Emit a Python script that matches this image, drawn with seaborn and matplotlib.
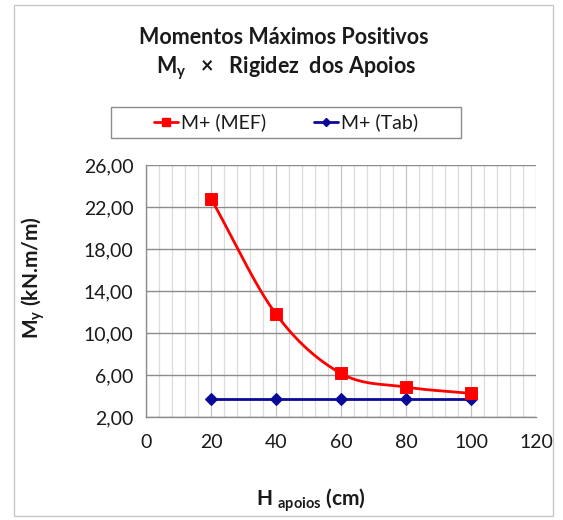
import numpy as np
import pandas as pd
import seaborn as sns
import matplotlib
matplotlib.use("Agg")
import matplotlib.pyplot as plt
from matplotlib.ticker import MultipleLocator, FixedLocator, FuncFormatter
from matplotlib.lines import Line2D
from matplotlib.patches import Rectangle

# Data
h_apoios = [20, 40, 60, 80, 100]
m_mef = [22.80, 11.80, 6.15, 4.85, 4.25]
m_tab = [3.70, 3.70, 3.70, 3.70, 3.70]
series_names = ["M+ (MEF)", "M+ (Tab)"]
y_ticks = [2, 6, 10, 14, 18, 22, 26]

sns.set_theme(style="white")
FONT = "Lato"
plt.rcParams["font.family"] = [FONT, "DejaVu Sans"]
plt.rcParams["mathtext.fontset"] = "custom"
plt.rcParams["mathtext.rm"] = FONT
plt.rcParams["mathtext.bf"] = FONT + ":bold"
plt.rcParams["mathtext.it"] = FONT + ":italic"

RED = "#ff0000"
BLUE = "#0a0a96"
TXT = "#1a1a1a"
W, H = 563, 520
fig = plt.figure(figsize=(W / 100, H / 100), dpi=100)
fig.patch.set_facecolor("white")

# outer chart frame
fig.patches.append(Rectangle((14 / W, 1 - 516 / H), (553 - 14) / W, (516 - 5) / H,
                             transform=fig.transFigure, fill=False,
                             edgecolor="#c8c8c8", linewidth=1.0))
# legend frame
fig.patches.append(Rectangle((111 / W, 1 - 138 / H), (461 - 111) / W, (138 - 107) / H,
                             transform=fig.transFigure, fill=False,
                             edgecolor="#8c8c8c", linewidth=1.0))

ax = fig.add_axes([146 / W, 1 - 417 / H, (536 - 146) / W, (417 - 165) / H])

df = pd.DataFrame({"H": h_apoios * 2,
                   "M": m_mef + m_tab,
                   "serie": [series_names[0]] * 5 + [series_names[1]] * 5})

# grid
ax.xaxis.set_major_locator(MultipleLocator(20))
ax.xaxis.set_minor_locator(MultipleLocator(4))
ax.yaxis.set_major_locator(FixedLocator(y_ticks))
ax.grid(which="minor", axis="x", color="#dcdcdc", linewidth=0.9)
ax.grid(which="major", axis="x", color="#c4c4c4", linewidth=0.9)
ax.grid(which="major", axis="y", color="#8c8c8c", linewidth=1.0)
ax.set_axisbelow(True)


# smoothed curve through the MEF points (Catmull-Rom style, like a spreadsheet smooth line)
def smooth(xs, ys, n=40):
    xs = np.asarray(xs, float)
    ys = np.asarray(ys, float)
    px = np.concatenate([[2 * xs[0] - xs[1]], xs, [2 * xs[-1] - xs[-2]]])
    py = np.concatenate([[2 * ys[0] - ys[1]], ys, [2 * ys[-1] - ys[-2]]])
    ox, oy = [], []
    for i in range(1, len(px) - 2):
        t = np.linspace(0, 1, n)
        for p, out in ((px, ox), (py, oy)):
            p0, p1, p2, p3 = p[i - 1], p[i], p[i + 1], p[i + 2]
            out.extend(0.5 * ((2 * p1) + (-p0 + p2) * t
                              + (2 * p0 - 5 * p1 + 4 * p2 - p3) * t ** 2
                              + (-p0 + 3 * p1 - 3 * p2 + p3) * t ** 3))
    return np.array(ox), np.array(oy)


sx, sy = smooth(h_apoios, m_mef)
ax.plot(sx, sy, color=RED, linewidth=2.0, zorder=3)

sns.lineplot(data=df[df.serie == series_names[1]], x="H", y="M", ax=ax,
             color=BLUE, linewidth=2.0, marker="D", markersize=6,
             markeredgecolor=BLUE, zorder=3, legend=False)
sns.scatterplot(data=df[df.serie == series_names[0]], x="H", y="M", ax=ax,
                color=RED, marker="s", s=70, edgecolor=RED, zorder=4, legend=False)

ax.set_xlim(0, 120)
ax.set_ylim(2, 26)
ax.yaxis.set_major_formatter(FuncFormatter(lambda v, p: f"{v:.2f}".replace(".", ",")))

for s in ["top", "right"]:
    ax.spines[s].set_visible(False)
for s in ["left", "bottom"]:
    ax.spines[s].set_color("#8c8c8c")
    ax.spines[s].set_linewidth(1.0)
ax.tick_params(axis="both", which="major", direction="out", length=5, width=1.0,
               color="#8c8c8c", labelsize=14, labelcolor=TXT, pad=4)
ax.tick_params(axis="x", which="minor", length=0)
ax.tick_params(axis="x", pad=7)

ax.set_xlabel(r"H $_{\mathbf{apoios}}$ (cm)", fontsize=15, fontweight="bold", color=TXT)
ax.set_ylabel(r"M$_{\mathbf{y}}$ (kN.m/m)", fontsize=15, fontweight="bold", color=TXT)
ax.xaxis.set_label_coords((311 - 146) / (536 - 146), -(487 - 417) / (417 - 165))
ax.yaxis.set_label_coords(-(146 - 47) / (536 - 146), (417 - 278) / (417 - 165))

# title
fig.text(284 / W, 1 - 37 / H, "Momentos Máximos Positivos", ha="center", va="center",
         fontsize=15.5, fontweight="bold", color=TXT)
fig.text(286 / W, 1 - 68 / H, r"M$_{\mathbf{y}}$   ×   Rigidez  dos Apoios", ha="center",
         va="center", fontsize=15.5, fontweight="bold", color=TXT)

# legend
handles = [Line2D([0], [0], color=RED, linewidth=2, marker="s", markersize=6),
           Line2D([0], [0], color=BLUE, linewidth=2, marker="D", markersize=4)]
leg = fig.legend(handles, series_names, loc="center",
                 bbox_to_anchor=(286 / W, 1 - 122.5 / H), ncol=2, frameon=False,
                 fontsize=14, handlelength=1.2, handletextpad=0.15,
                 columnspacing=2.5, borderpad=0.3)
for t in leg.get_texts():
    t.set_color(TXT)

fig.savefig("out.png", dpi=100)
